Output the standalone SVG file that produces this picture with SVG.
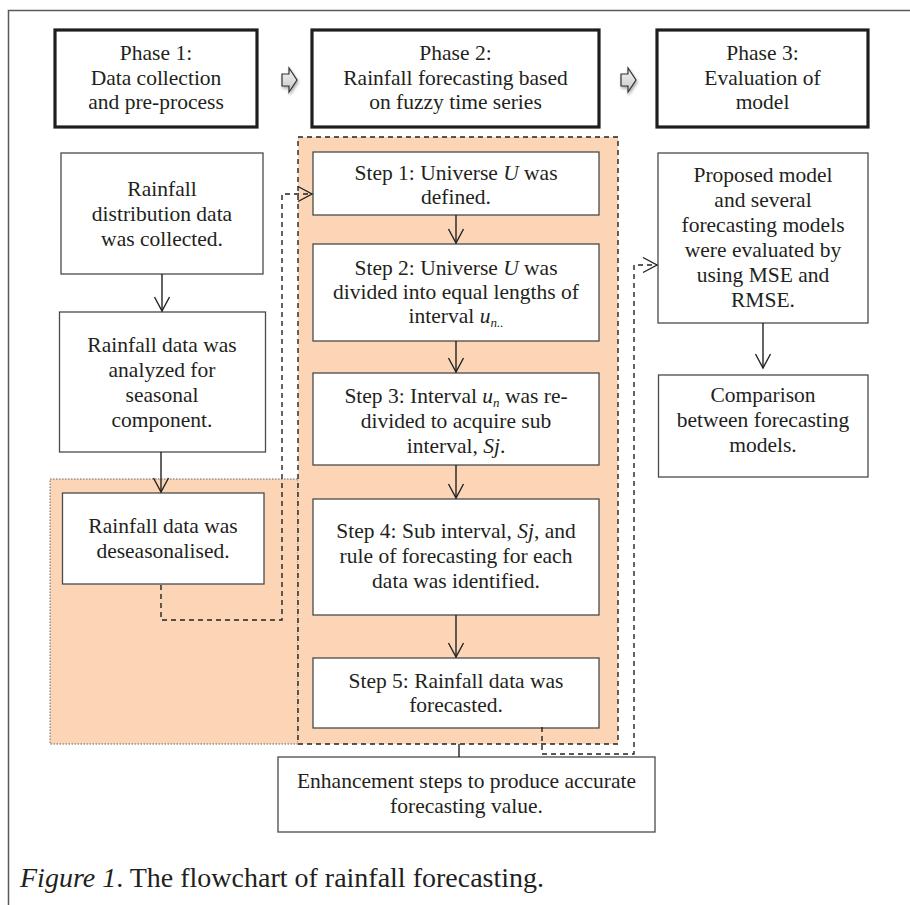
<svg xmlns="http://www.w3.org/2000/svg" width="910" height="905" viewBox="0 0 910 905">
<style>
text{font-family:"Liberation Serif","Times New Roman",serif;font-size:21.5px;fill:#231f20;text-anchor:middle}
.it{font-style:italic}
.phase{fill:#fff;stroke:#1e1e1e;stroke-width:3.2}
.box{fill:#fff;stroke:#4a4a4a;stroke-width:1.3}
.sol{fill:none;stroke:#222;stroke-width:1.4}
.dash{fill:none;stroke:#222;stroke-width:1.4;stroke-dasharray:5 4}
.blk{fill:url(#g);stroke:#333;stroke-width:1.2;filter:url(#sh)}
</style>
<defs>
<marker id="ah" markerUnits="userSpaceOnUse" markerWidth="20" markerHeight="20" viewBox="-15 -10 17 20" refX="0" refY="0" orient="auto">
<path d="M-14,-7.5 L0,0 L-14,7.5" fill="none" stroke="#222" stroke-width="1.4"/>
</marker>
<linearGradient id="g" x1="0" y1="0" x2="0" y2="1"><stop offset="0" stop-color="#f4f4f4"/><stop offset="1" stop-color="#c8c8c8"/></linearGradient>
<filter id="sh" x="-50%" y="-50%" width="200%" height="200%"><feDropShadow dx="1" dy="2" stdDeviation="1.5" flood-color="#000" flood-opacity="0.35"/></filter>
</defs>
<rect width="910" height="905" fill="#fff"/>
<path d="M8.5,905 V10.5 H910" fill="none" stroke="#5a5a5a" stroke-width="1.5"/>

<g id="regions">
<rect x="50" y="479" width="248" height="265" fill="#fbd5b5" stroke="#666" stroke-width="1" stroke-dasharray="1.5 1.5"/>
<rect x="298" y="137" width="320" height="607" fill="#fbd5b5" stroke="#222" stroke-width="1.4" stroke-dasharray="5 4"/>
</g>

<g id="phase1"><rect class="phase" x="55" y="30" width="202" height="97"/>
<text x="156" y="60">Phase 1:</text><text x="156" y="85">Data collection</text><text x="156" y="109">and pre-process</text></g>
<g id="phase2"><rect class="phase" x="312" y="30" width="287" height="97"/>
<text x="455.5" y="60">Phase 2:</text><text x="455.5" y="85">Rainfall forecasting based</text><text x="455.5" y="109">on fuzzy time series</text></g>
<g id="phase3"><rect class="phase" x="657" y="30" width="211" height="97"/>
<text x="762.5" y="60">Phase 3:</text><text x="762.5" y="85">Evaluation of</text><text x="762.5" y="109">model</text></g>

<g id="blockarrows">
<polygon class="blk" points="282,74 289,74 289,68 297,80 289,92 289,86 282,86"/>
<polygon class="blk" points="621,74 628,74 628,68 636,80 628,92 628,86 621,86"/>
</g>

<g id="collected"><rect class="box" x="61" y="153" width="202" height="121"/>
<text x="162" y="196">Rainfall</text><text x="162" y="221">distribution data</text><text x="162" y="246">was collected.</text></g>
<g id="analyzed"><rect class="box" x="59.5" y="312" width="206" height="140"/>
<text x="162" y="352">Rainfall data was</text><text x="162" y="377">analyzed for</text><text x="162" y="402">seasonal</text><text x="162" y="427">component.</text></g>
<g id="deseason"><rect class="box" x="62.5" y="493" width="201.5" height="91"/>
<text x="163" y="533">Rainfall data was</text><text x="163" y="558">deseasonalised.</text></g>

<g id="step1"><rect class="box" x="313" y="152" width="286" height="63"/>
<text x="456" y="180">Step 1: Universe <tspan class="it">U</tspan> was</text><text x="456" y="204">defined.</text></g>
<g id="step2"><rect class="box" x="313" y="244" width="286" height="97"/>
<text x="456" y="275">Step 2: Universe <tspan class="it">U</tspan> was</text><text x="456" y="299">divided into equal lengths of</text><text x="456" y="323">interval <tspan class="it">u</tspan><tspan class="it" font-size="13" dy="4">n..</tspan></text></g>
<g id="step3"><rect class="box" x="313" y="373" width="286" height="92"/>
<text x="456" y="403">Step 3: Interval <tspan class="it">u</tspan><tspan class="it" font-size="13" dy="4">n</tspan><tspan dy="-4"> was re-</tspan></text><text x="456" y="428">divided to acquire sub</text><text x="456" y="453">interval, <tspan class="it">Sj</tspan>.</text></g>
<g id="step4"><rect class="box" x="313" y="499" width="286" height="116"/>
<text x="456" y="538">Step 4: Sub interval, <tspan class="it">Sj</tspan>, and</text><text x="456" y="563">rule of forecasting for each</text><text x="456" y="588">data was identified.</text></g>
<g id="step5"><rect class="box" x="313" y="658" width="286" height="70"/>
<text x="456" y="688">Step 5: Rainfall data was</text><text x="456" y="712">forecasted.</text></g>

<g id="enhance"><rect class="box" x="278" y="757" width="377" height="75"/>
<text x="466.5" y="788">Enhancement steps to produce accurate</text><text x="466.5" y="813">forecasting value.</text></g>

<g id="proposed"><rect class="box" x="658" y="153" width="210" height="170"/>
<text x="763" y="182">Proposed model</text><text x="763" y="207">and several</text><text x="763" y="232">forecasting models</text><text x="763" y="257">were evaluated by</text><text x="763" y="282">using MSE and</text><text x="763" y="307">RMSE.</text></g>
<g id="comparison"><rect class="box" x="658.5" y="375" width="209.5" height="102"/>
<text x="763" y="402">Comparison</text><text x="763" y="427">between forecasting</text><text x="763" y="452">models.</text></g>

<g id="connectors">
<path class="sol" d="M162,274 V311" marker-end="url(#ah)"/>
<path class="sol" d="M161,452 V492" marker-end="url(#ah)"/>
<path class="sol" d="M456,215 V243" marker-end="url(#ah)"/>
<path class="sol" d="M456,341 V372" marker-end="url(#ah)"/>
<path class="sol" d="M456,465 V498" marker-end="url(#ah)"/>
<path class="sol" d="M456,615 V657" marker-end="url(#ah)"/>
<path class="sol" d="M763,323 V368" marker-end="url(#ah)"/>
<path class="sol" d="M459,744 V757"/>
<path class="dash" d="M161,585 V620 H282 V194 H312" marker-end="url(#ah)"/>
<path class="dash" d="M542,727 V754 H634 V265 H657" marker-end="url(#ah)"/>
</g>

<g id="caption"><text x="20" y="887" style="text-anchor:start;font-size:28px"><tspan class="it">Figure 1</tspan>. The flowchart of rainfall forecasting.</text></g>
</svg>
